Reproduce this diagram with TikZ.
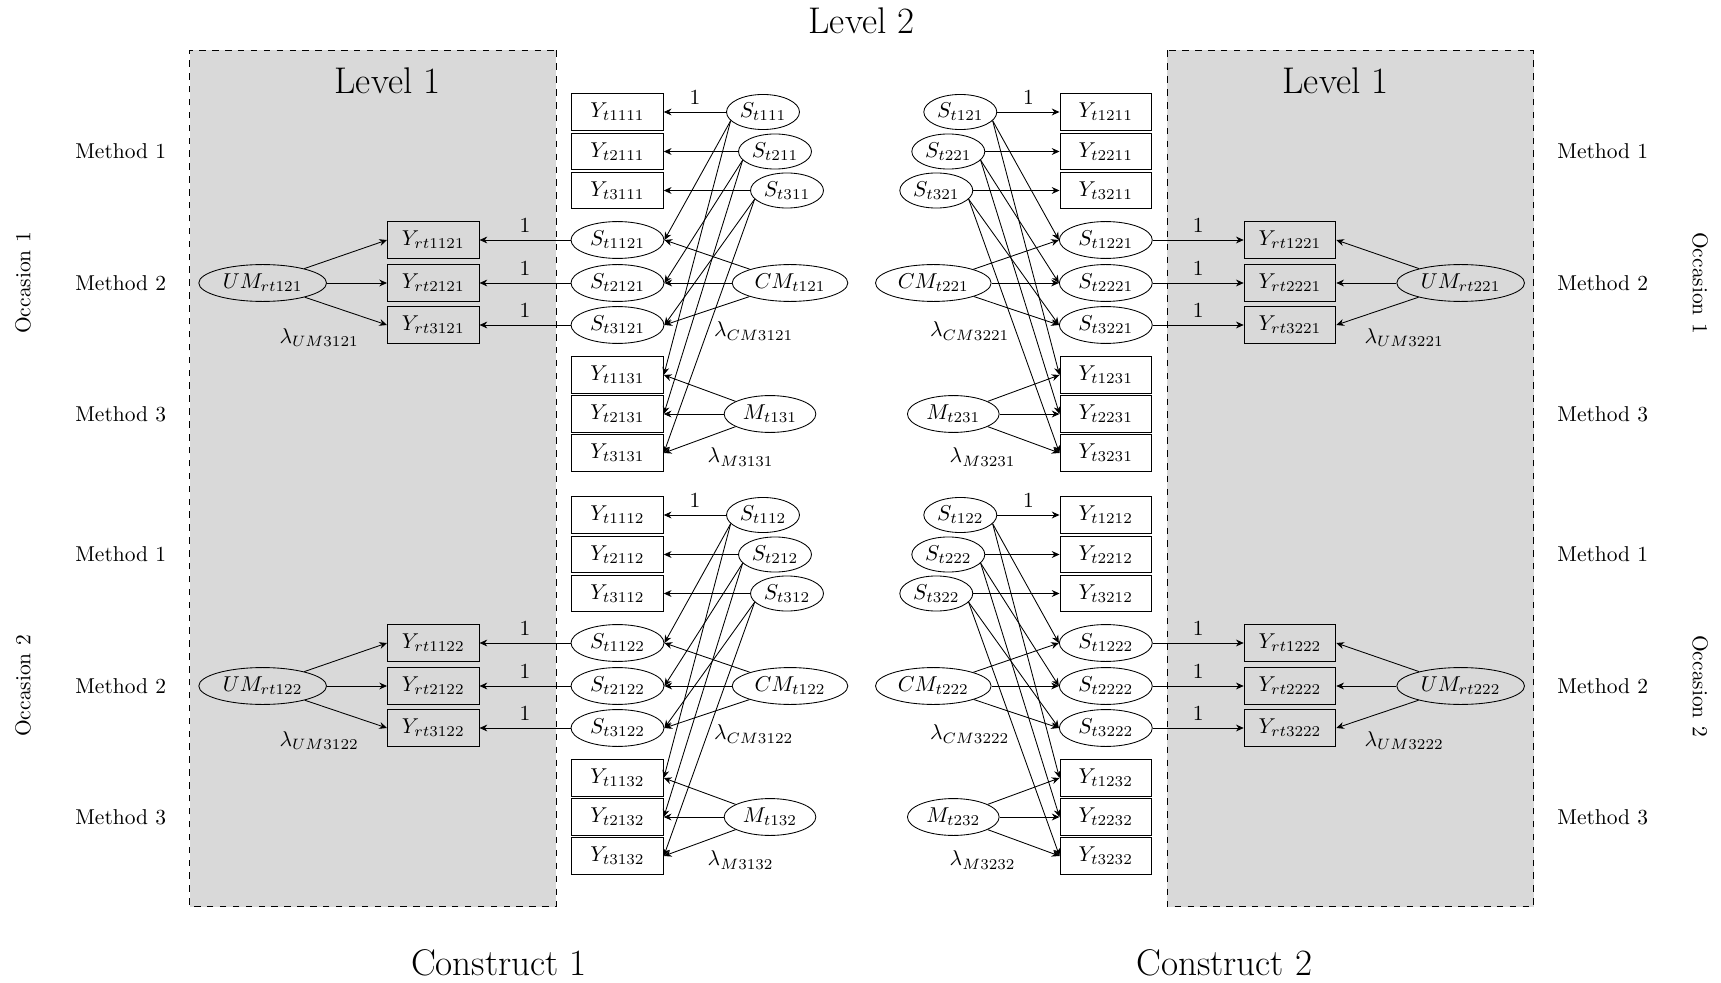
\documentclass[tikz,border=0pt]{standalone}
\usepackage{fontspec}
\usetikzlibrary{shapes.geometric,arrows.meta}
\tikzset{
  obs/.style={draw, rectangle, minimum width=1.5cm, minimum height=0.6cm, inner sep=0pt, font=\normalsize},
  lat/.style={draw, ellipse, inner xsep=2.5pt, inner ysep=1.9pt, font=\normalsize},
  latsmall/.style={lat, inner xsep=1.2pt, inner ysep=1.6pt},
  arr/.style={-{Stealth[length=3.6pt,width=3.2pt]}},
  lbl/.style={font=\normalsize},
  lam/.style={inner sep=1pt},
  title/.style={font=\LARGE},
  method/.style={font=\normalsize},
  lvlbox/.style={draw, dashed, fill=black!15},
}
\begin{document}
\begin{tikzpicture}[x=0.4654pt, y=-0.4654pt]
\useasboundingbox (0,0) rectangle (1721,983);

% level-1 boxes
\foreach \s in {-1,1}
  \draw[lvlbox] ({861.65+(\s)*305.3},50.5) rectangle ({861.65+(\s)*672},906.6);

% titles
\node[title] (lvltwo) at (861.65,21) {Level 2};
\node[title] (lvloneA) at (387.65,81) {Level 1};
\node[title] (lvloneB) at (1335.65,81) {Level 1};
\node[title] (conA) at (498.95,963) {Construct 1};
\node[title] (conB) at (1224.35,963) {Construct 2};

% method and occasion labels
\foreach \o/\dy in {1/0, 2/403} {
  \foreach \m/\yy in {1/151.5, 2/283, 3/414} {
    \node[method] (methL\m\o) at (120.65,{\yy+\dy}) {Method \m};
    \node[method] (methR\m\o) at (1602.65,{\yy+\dy}) {Method \m};
  }
  \node[method, rotate=90] (occL\o) at (23.15,{283+\dy}) {Occasion \o};
  \node[method, rotate=-90] (occR\o) at (1700.15,{283+\dy}) {Occasion \o};
}

% constructs
\foreach \c/\s/\ta/\sa/\ang in {1/-1/east/west/195, 2/1/west/east/345} {
  \foreach \o/\dy in {1/0, 2/403} {
    % method 1
    \foreach \i/\yy/\sx in {1/112/98.65, 2/151.5/86.65, 3/190.5/74.65} {
      \node[obs] (Yt\i\c1\o) at ({861.65+(\s)*244.15},{\yy+\dy}) {$Y_{t\i\c1\o}$};
      \node[latsmall] (St\i\c\o) at ({861.65+(\s)*\sx},{\yy+\dy}) {$S_{t\i\c\o}$};
    }
    % method 2
    \foreach \i/\yy in {1/240, 2/283, 3/325} {
      \node[lat] (St\i\c2\o) at ({861.65+(\s)*244.15},{\yy+\dy}) {$S_{t\i\c2\o}$};
      \node[obs] (Yrt\i\c2\o) at ({861.65+(\s)*428.35},{\yy+\dy}) {$Y_{rt\i\c2\o}$};
    }
    % method 3
    \foreach \i/\yy in {1/375, 2/414, 3/453} {
      \node[obs] (Yt\i\c3\o) at ({861.65+(\s)*244.15},{\yy+\dy}) {$Y_{t\i\c3\o}$};
    }
    \node[lat] (CM\c\o) at ({861.65+(\s)*71.65},{283+\dy}) {$CM_{t\c2\o}$};
    \node[lat] (M\c\o) at ({861.65+(\s)*91.65},{414+\dy}) {$M_{t\c3\o}$};
    \node[lat] (UM\c\o) at ({861.65+(\s)*599},{283+\dy}) {$UM_{rt\c2\o}$};
    \node[lam] (lCM\c\o) at ({861.65+(\s)*108},{331+\dy}) {$\lambda_{CM3\c2\o}$};
    \node[lam] (lM\c\o) at ({861.65+(\s)*121},{457+\dy}) {$\lambda_{M3\c3\o}$};
    \node[lam] (lUM\c\o) at ({861.65+(\s)*542.5},{337.5+\dy}) {$\lambda_{UM3\c2\o}$};
    % connectors
    \draw[arr] (St1\c\o.\sa) -- node[above,lbl] (one1\c\o) {1} (Yt1\c1\o.\ta);
    \draw[arr] (St2\c\o.\sa) -- (Yt2\c1\o.\ta);
    \draw[arr] (St3\c\o.\sa) -- (Yt3\c1\o.\ta);
    \foreach \i in {1,2,3} {
      \draw[arr] (St\i\c\o.\ang) -- (St\i\c2\o.\ta);
      \draw[arr] (St\i\c\o.\ang) -- (Yt\i\c3\o.\ta);
      \draw[arr] (CM\c\o) -- (St\i\c2\o.\ta);
      \draw[arr] (M\c\o) -- (Yt\i\c3\o.\ta);
      \draw[arr] (St\i\c2\o.\sa) -- node[above,lbl] (oneR\i\c\o) {1} (Yrt\i\c2\o.\ta);
      \draw[arr] (UM\c\o) -- (Yrt\i\c2\o.\sa);
    }
  }
}
\end{tikzpicture}
\end{document}
